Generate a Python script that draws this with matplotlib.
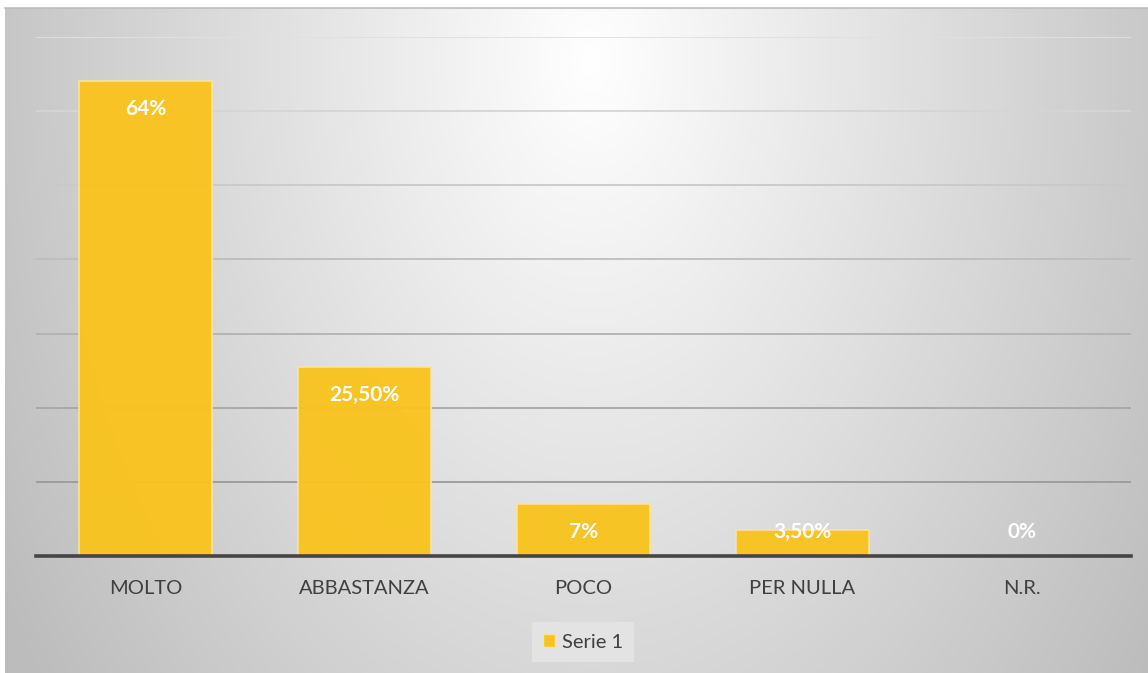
import numpy as np
import matplotlib.pyplot as plt
from matplotlib.patches import Patch

# Dati del grafico
categorie = ['MOLTO', 'ABBASTANZA', 'POCO', 'PER NULLA', 'N.R.']
valori = [64, 25.5, 7, 3.5, 0]
etichette = ['64%', '25,50%', '7%', '3,50%', '0%']
serie = 'Serie 1'

W, H, DPI = 1148, 673, 100
fig = plt.figure(figsize=(W / DPI, H / DPI), dpi=DPI)
fig.patch.set_facecolor('white')

# Sfondo con gradiente radiale (cornice del grafico)
bx0, by1 = 5, 8
bg = fig.add_axes([bx0 / W, 0, 1 - bx0 / W, 1 - by1 / H])
xx, yy = np.meshgrid(np.arange(bx0, W), np.arange(by1, H))
d = np.sqrt(((xx - 590) / 600.0) ** 2 + ((yy - 60) / 900.0) ** 2)
g = np.clip(255 - 58 * d, 188, 255) / 255.0
bg.imshow(np.dstack([g, g, g]), aspect='auto', extent=[0, 1, 0, 1])
bg.set_axis_off()
bg.set_zorder(0)
# bordo sottile in alto
fig.add_artist(plt.Line2D([bx0 / W, 1], [1 - by1 / H, 1 - by1 / H],
                          color='#bdbdbd', lw=1.2))

# Area del grafico
left, right, top, bottom = 36, 1131, 37, 556
ax = fig.add_axes([left / W, 1 - bottom / H, (right - left) / W, (bottom - top) / H])
ax.set_zorder(1)
ax.patch.set_alpha(0)

x = np.arange(len(categorie))
ax.set_xlim(-0.5, len(categorie) - 0.5)
ax.set_ylim(0, 70)

# Griglia con colore che scurisce verso il basso
for yv in range(10, 71, 10):
    t = yv / 70.0
    c = 0.56 + 0.32 * t
    ax.axhline(yv, color=(c, c, c), lw=1.3, zorder=1)

ax.bar(x, valori, width=0.61, color='#F9C31E', edgecolor='#FBE49A',
       linewidth=1.2, alpha=0.96, zorder=2)
ax.axhline(0, color='#454545', lw=2.6, zorder=3, clip_on=False)

for xi, v, lab in zip(x, valori, etichette):
    ax.annotate(lab, (xi, max(v, 7)), xytext=(0, -20), textcoords='offset points',
                ha='center', va='center', color='white', fontsize=15,
                fontweight='bold', family='Lato', zorder=4)

ax.set_xticks(x)
ax.set_xticklabels(categorie, family='Lato', fontsize=14.5, color='#404040')
ax.tick_params(axis='x', length=0, pad=17)
ax.set_yticks([])
for s in ax.spines.values():
    s.set_visible(False)

leg = fig.legend(handles=[Patch(facecolor='#F9C31E', edgecolor='#FBE49A', label=serie)],
                 loc='center', bbox_to_anchor=(583 / W, 1 - 642 / H),
                 prop={'family': 'Lato', 'size': 14.5}, handlelength=0.6,
                 handleheight=0.6, handletextpad=0.35, borderpad=0.55,
                 frameon=True, fancybox=False)
leg.get_frame().set_facecolor('#e3e3e3')
leg.get_frame().set_edgecolor('none')
leg.get_frame().set_alpha(1)
for t in leg.get_texts():
    t.set_color('#404040')

fig.savefig('out.png', dpi=DPI)
